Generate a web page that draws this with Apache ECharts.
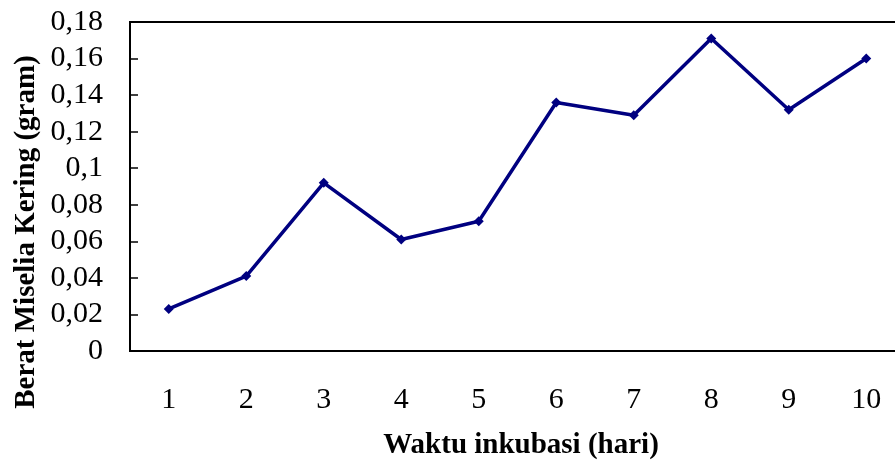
<!DOCTYPE html>
<html>
<head>
<meta charset="utf-8">
<script src="https://cdn.jsdelivr.net/npm/echarts@6/dist/echarts.min.js"></script>
<style>
  html, body { margin: 0; padding: 0; background: #fff; }
  #main { width: 895px; height: 464px; }
</style>
</head>
<body>
<div id="main"></div>
<script>
// hari ke-
var days = ['1', '2', '3', '4', '5', '6', '7', '8', '9', '10'];
// berat miselia kering (gram)
var weights = [0.023, 0.041, 0.092, 0.061, 0.071, 0.136, 0.129, 0.171, 0.132, 0.160];
var yTicks = [0, 0.18, 0.02]; // min, max, interval

var serif = '"Liberation Serif", "Times New Roman", serif';
var myChart = echarts.init(document.getElementById('main'));

myChart.setOption({
    animation: false,
    backgroundColor: '#fff',
    grid: {
        left: 130,
        top: 22,
        width: 775,
        height: 329,
        outerBoundsMode: 'none',
        containLabel: false,
        show: true,
        borderColor: '#000',
        borderWidth: 2,
        backgroundColor: 'transparent'
    },
    xAxis: {
        type: 'category',
        data: days,
        boundaryGap: true,
        axisLine: { lineStyle: { color: '#000', width: 2 } },
        axisTick: { inside: true, length: 10, lineStyle: { color: '#000', width: 1.5 } },
        axisLabel: { color: '#000', fontFamily: serif, fontSize: 30, margin: 34 },
        splitLine: { show: false }
    },
    yAxis: {
        type: 'value',
        min: yTicks[0],
        max: yTicks[1],
        interval: yTicks[2],
        axisLine: { show: true, lineStyle: { color: '#000', width: 2 } },
        axisTick: { show: true, inside: true, length: 8, lineStyle: { color: '#000', width: 1.5 } },
        axisLabel: {
            color: '#000', fontFamily: serif, fontSize: 30, margin: 27,
            formatter: function (v) {
                return String(+v.toFixed(2)).replace('.', ',');
            }
        },
        splitLine: { show: false }
    },
    graphic: [
        {
            type: 'text', x: 521, y: 446,
            style: {
                text: 'Waktu inkubasi (hari)', align: 'center', verticalAlign: 'middle',
                fill: '#000', font: 'bold 29px ' + serif
            }
        },
        {
            type: 'text', x: 27, y: 232, rotation: Math.PI / 2,
            style: {
                text: 'Berat Miselia Kering (gram)', align: 'center', verticalAlign: 'middle',
                fill: '#000', font: 'bold 29px ' + serif
            }
        }
    ],
    series: [{
        type: 'line',
        data: weights,
        symbol: 'diamond',
        symbolSize: 10,
        lineStyle: { color: '#000080', width: 3.5 },
        itemStyle: { color: '#000080' }
    }]
});
</script>
</body>
</html>
